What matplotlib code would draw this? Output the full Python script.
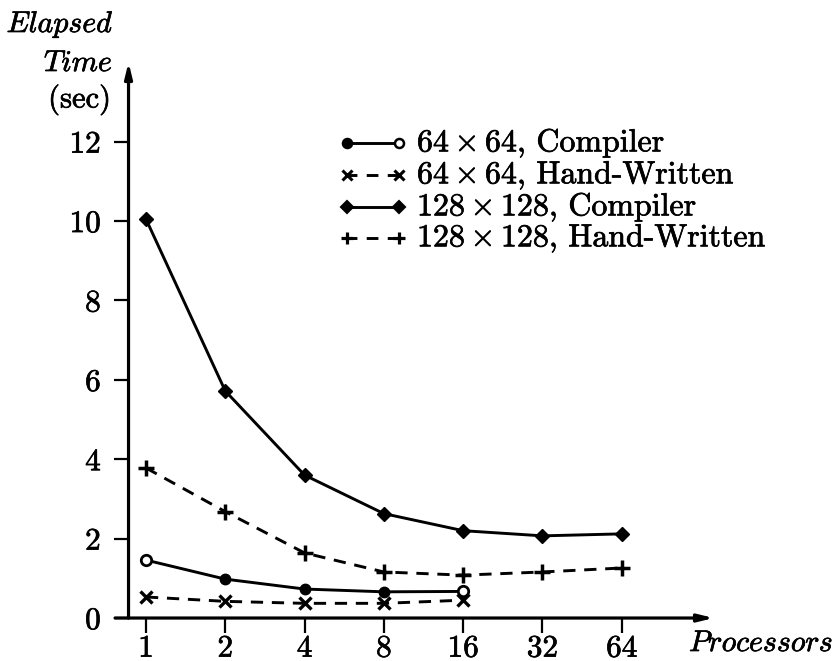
import matplotlib
matplotlib.use("Agg")
import matplotlib.pyplot as plt
import matplotlib.patheffects as pe
from matplotlib.lines import Line2D

plt.rcParams['font.family'] = ['cmr10', 'DejaVu Serif']
plt.rcParams['mathtext.fontset'] = 'cm'
plt.rcParams['axes.unicode_minus'] = False
plt.rcParams['axes.formatter.use_mathtext'] = True

procs = ['1', '2', '4', '8', '16', '32', '64']
c64 = [1.46, 0.98, 0.73, 0.66, 0.67]
hw64 = [0.53, 0.42, 0.37, 0.37, 0.45]
c128 = [10.05, 5.72, 3.6, 2.63, 2.2, 2.07, 2.12]
hw128 = [3.78, 2.68, 1.64, 1.16, 1.08, 1.16, 1.26]
yticks = [0, 2, 4, 6, 8, 10, 12]

W, H = 836, 661
fig = plt.figure(figsize=(W / 100, H / 100), dpi=100)
ax = fig.add_axes([0.1177, 0.047, 0.7446, 0.8708])
ax.set_xlim(-0.6, 7.25)
ax.set_ylim(-0.3, 14.2)

# slightly heavier glyphs, like a printed page
ink = [pe.withStroke(linewidth=0.5, foreground='black')]

LW = 2.1
dash = (4.2, 3.0)
x64 = list(range(len(c64)))
x128 = list(range(len(c128)))

# 64 x 64 compiler: filled dots, open at both ends
ax.plot(x64, c64, color='black', lw=LW, marker='o', ms=7.5, mfc='black',
        mec='black', markevery=list(range(1, len(c64) - 1)), clip_on=False)
ax.plot(x64, c64, ls='none', marker='o', ms=7.5, mfc='white', mec='black',
        mew=2.0, markevery=[0, len(c64) - 1], clip_on=False)
ax.plot(x64, hw64, color='black', lw=LW, ls=(0, dash), marker='x', ms=8,
        mew=2.4, clip_on=False)
ax.plot(x128, c128, color='black', lw=LW, marker='D', ms=7.5, clip_on=False)
ax.plot(x128, hw128, color='black', lw=LW, ls=(0, dash), marker='+', ms=11,
        mew=2.5, clip_on=False)

# axes drawn as arrows
for s in ax.spines.values():
    s.set_visible(False)
ax.spines['left'].set_position(('data', -0.22))
ax.spines['bottom'].set_position(('data', 0))
arrow = dict(arrowstyle='-|>,head_length=0.9,head_width=0.22', color='black',
             lw=2.3, shrinkA=0, shrinkB=0)
ax.annotate('', xy=(-0.22, 14.0), xytext=(-0.22, 0), arrowprops=arrow,
            annotation_clip=False)
ax.annotate('', xy=(7.16, 0), xytext=(-0.39, 0), arrowprops=arrow,
            annotation_clip=False)

ax.set_xticks(x128)
ax.set_xticklabels(procs)
ax.set_yticks(yticks)
ax.set_yticklabels([str(v) for v in yticks])
ax.tick_params(axis='both', direction='out', length=11, width=1.6,
               labelsize=22.5, pad=4, color='black')
ax.tick_params(axis='y', pad=9)
ax.tick_params(axis='x', pad=1)
for t in ax.get_xticklabels() + ax.get_yticklabels():
    t.set_path_effects(ink)


def px(x, y):
    return (x / W, 1 - y / H)


fig.text(*px(112, 25), 'Elapsed', family='cmmi10', fontsize=21.5,
         ha='right', va='center', path_effects=ink)
fig.text(*px(112, 64), 'Time', family='cmmi10', fontsize=21.5,
         ha='right', va='center', path_effects=ink)
fig.text(*px(111, 100), '(sec)', fontsize=22, ha='right', va='center',
         path_effects=ink)
fig.text(*px(689, 644), 'Processors', family='cmmi10', fontsize=21.5,
         ha='left', va='center', path_effects=ink)

# legend
labels = [r'$64\times64$, Compiler', r'$64\times64$, Hand-Written',
          r'$128\times128$, Compiler', r'$128\times128$, Hand-Written']
rows = [143, 175, 207, 238]
styles = [
    dict(ls='-', m1=('o', 'black'), m2=('o', 'white'), ms=6.5, mew=1.8),
    dict(ls=(0.6, (4.0, 3.2)), m1=('x', 'black'), m2=('x', 'black'), ms=6.5, mew=2.2),
    dict(ls='-', m1=('D', 'black'), m2=('D', 'black'), ms=6, mew=1.5),
    dict(ls=(0.6, (4.0, 3.2)), m1=('+', 'black'), m2=('+', 'black'), ms=8, mew=2.3),
]
for lab, y, st in zip(labels, rows, styles):
    (x0, y0), (x1, _) = px(347, y), px(399, y)
    fig.add_artist(Line2D([x0, x1], [y0, y0], transform=fig.transFigure,
                          color='black', lw=LW, ls=st['ls']))
    for xm, (mk, fc) in ((x0, st['m1']), (x1, st['m2'])):
        fig.add_artist(Line2D([xm], [y0], transform=fig.transFigure,
                              ls='none', marker=mk, ms=st['ms'], mfc=fc,
                              mec='black', mew=st['mew']))
    fig.text(*px(417, y + 1), lab, fontsize=23, ha='left', va='center',
             path_effects=ink)

fig.savefig('out.png', dpi=100)
